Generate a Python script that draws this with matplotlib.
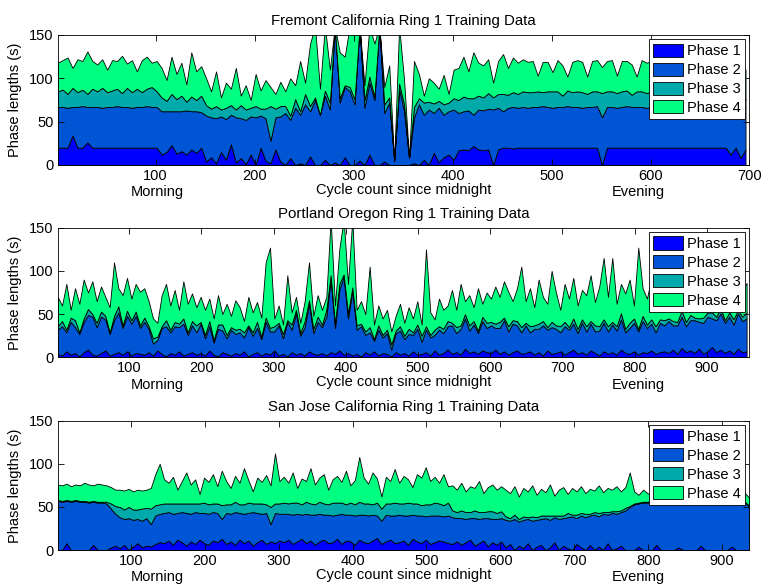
import numpy as np
import matplotlib
matplotlib.use("Agg")
import matplotlib.pyplot as plt

plt.rcParams['font.family'] = ['Liberation Sans', 'DejaVu Sans']
plt.rcParams['font.size'] = 10.5

# ---- Fremont California, one value every 5 cycles ----
fremont_cycles = np.arange(1, 701, 5)
fremont_p1 = [20, 20, 20, 34, 20, 20, 26, 20, 20, 20, 20, 20, 20, 20, 20, 20, 20, 20, 20, 20, 20,
              12, 15, 23, 13, 16, 12, 18, 14, 20,
              4, 9, 2, 15, 6, 24, 3, 8, 1, 12, 0, 20, 5, 2, 18, 4,
              0, 8, 0, 2, 0, 10, 0, 0, 6, 0, 3, 0, 9, 0, 0, 5, 0, 12, 0, 0, 4, 0, 0, 0, 0, 0, 2, 0, 6, 0, 14, 3, 9, 12, 6,
              17, 18, 17, 22, 18, 17, 18, 0, 18, 20, 20, 19, 20, 20,
              20, 20, 20, 20, 20, 20, 20, 20, 20, 20, 20, 20, 20, 20, 20,
              0,
              20, 20, 20, 20, 20, 20, 20, 20, 20, 20, 20, 20, 20, 20, 20, 20, 20, 20, 20, 20, 20, 20, 20, 20, 20,
              12, 20, 8, 18]
fremont_p2 = [47, 47, 46, 33, 47, 48, 41, 47, 47, 46, 47, 47, 48, 47, 47, 46, 47, 47, 48, 47, 47,
              50, 47, 39, 49, 46, 51, 44, 48, 41,
              53, 46, 52, 41, 47, 34, 52, 46, 51, 44, 55, 37, 49, 26, 37, 52,
              60, 44, 66, 56, 70, 52, 75, 58, 74, 64, 157, 72, 81, 85, 70, 155, 66, 83, 75, 160, 56, 72, 5, 88,
              62, 8, 53, 70, 52, 64, 46, 63, 49, 50, 58,
              43, 44, 46, 36, 46, 46, 47, 64, 48, 42, 46, 48, 46, 47,
              46, 47, 47, 48, 47, 46, 47, 47, 48, 47, 47, 46, 47, 47, 48,
              55,
              47, 47, 46, 47, 48, 47, 47, 47, 46, 47, 47, 48, 47, 47, 46, 47, 47, 47, 48, 47, 47, 46, 47, 47, 47,
              55, 47, 59, 49]
fremont_p3 = [18, 20, 16, 22, 17, 19, 15, 21, 18, 23, 17, 19, 20, 16, 22, 18, 21, 17, 20, 23, 18,
              16, 12, 20, 14, 18, 10, 17, 13, 19,
              12, 10, 14, 8, 13, 11, 9, 15, 12, 10, 13, 8, 11, 40, 10, 12,
              8, 5, 10, 4, 12, 6, 3, 0, 6, 8, 0, 5, 2, 5, 6, 0, 9, 7, 4, 0, 10, 6, 0, 6, 8, 0, 12, 7, 14, 9, 11, 8, 12, 10, 13,
              15, 17, 14, 19, 16, 15, 18, 14, 16, 20, 15, 17, 16, 18,
              18, 17, 18, 16, 18, 19, 18, 13, 18, 17, 18, 18, 15, 18, 17,
              28,
              18, 18, 17, 18, 18, 14, 18, 18, 17, 18, 18, 18, 19, 18, 17, 18, 18, 18, 18, 17, 18, 18, 18, 17, 18,
              30, 18, 26, 8]
fremont_p4 = [33, 34, 42, 23, 38, 33, 49, 32, 31, 33, 26, 35, 32, 43, 28, 37, 20, 37, 37, 28, 35,
              34, 24, 43, 29, 38, 20, 51, 33, 34,
              31, 20, 40, 14, 29, 19, 48, 11, 28, 9, 37, 21, 33, 22, 17, 28,
              17, 43, 16, 58, 13, 72, 82, 30, 74, 38, 0, 53, 33, 70, 74, 0, 17, 58, 61, 0, 20, 37, 0, 66, 28, 0, 53, 28, 8,
              27, 24, 14, 34, 10, 33,
              37, 46, 31, 53, 38, 37, 39, 17, 38, 46, 31, 40, 36, 37,
              35, 36, 18, 35, 34, 22, 36, 35, 16, 35, 36, 35, 20, 35, 36,
              30,
              35, 36, 20, 35, 34, 35, 17, 36, 35, 35, 34, 36, 35, 35, 36, 35, 35, 34, 36, 35, 35, 36, 35, 35, 34,
              23, 35, 27, 35]

# ---- Portland Oregon, one value every 6 cycles ----
portland_cycles = np.arange(1, 960, 6)
portland_p1 = [4, 2, 7, 3, 5, 1, 6, 9, 3, 2, 5, 8, 2, 4, 6, 3, 7, 2, 5, 4,
               3, 6, 2, 8, 4, 1, 5, 3, 7, 2, 4, 6, 3, 5, 2, 8, 3, 1, 6, 4,
               2, 5, 3, 7, 1, 4, 6, 2, 5, 3, 8, 2, 4, 1, 6, 3, 5, 2, 7, 4,
               3, 5, 2, 6, 4, 8, 3, 5, 2, 4, 1, 6, 3, 7, 2, 5, 4, 1, 6, 3,
               5, 2, 7, 3, 4, 6, 2, 8, 3, 5, 9, 4, 6, 3, 10, 5, 7, 4, 8, 6,
               5, 9, 4, 7, 3, 6, 8, 4, 5, 7, 3, 6, 2, 8, 4, 5, 7, 3, 6, 9,
               4, 6, 3, 8, 5, 2, 7, 4, 6, 3, 9, 5, 4, 7, 3, 6, 5, 8, 4, 6,
               7, 5, 9, 4, 11, 6, 8, 5, 10, 4, 7, 12, 6, 9, 5, 8, 4, 10, 6, 7]
portland_p2 = [28, 34, 22, 38, 30, 26, 35, 40, 44, 33, 42, 36, 25, 39, 46, 31, 41, 37, 43, 30,
               38, 27, 14, 12, 30, 35, 24, 33, 28, 37, 22, 31, 26, 34,
               20, 28, 14, 32, 25, 18, 30, 22, 26, 16, 34, 21, 28, 19, 36, 27,
               22, 35, 18, 40, 26, 48, 20, 33, 55, 24, 38, 30,
               45, 85, 30, 70, 90, 40, 75, 28, 35,
               20, 26, 12, 30, 18, 24, 8, 22, 28, 16, 25, 19, 30, 14, 26, 21, 18, 29, 23,
               27, 33, 22, 30, 35, 26, 31, 24, 34, 28, 32, 25, 30, 36, 27, 33, 29,
               25, 32, 22, 30, 27, 35, 24, 31, 28, 22, 33, 26, 30, 24, 34, 27, 31, 25, 29, 33,
               26, 32, 28, 35, 24, 30, 33, 27, 36, 29, 31, 25, 34, 30, 37, 28, 33, 36, 30, 35,
               38, 31, 36, 40, 33, 37, 42, 35, 39, 34, 41, 36, 38]
portland_p3 = [4, 6, 3, 5, 8, 2, 4, 7, 3, 5, 6, 4, 2, 5, 7, 3, 6, 4, 5, 3,
               5, 3, 6, 4, 2, 7, 3, 5, 4, 6, 3, 5, 8, 2, 4, 6, 3, 5, 7, 4,
               3, 5, 4, 6, 2, 4, 7, 3, 5, 4, 6, 3, 5, 2, 6, 4, 3, 7, 4, 5,
               6, 3, 8, 4, 5, 7, 3, 6, 4, 5, 3, 4, 6, 2, 5, 3, 4, 6, 3, 5,
               4, 6, 3, 5, 7, 4, 3, 6, 4, 5, 6, 3, 7, 4, 5, 6, 4, 3, 5, 6,
               4, 5, 7, 3, 6, 4, 5, 6, 3, 7, 4, 6, 5, 3, 6, 4, 7, 5, 3, 6,
               5, 4, 6, 3, 7, 5, 4, 6, 3, 5, 7, 4, 6, 5, 3, 6, 4, 5, 7, 4,
               6, 3, 5, 4, 7, 5, 6, 3, 4, 6, 5, 7, 4, 6, 3, 5, 6, 4, 5, 7]
portland_p4 = [34, 18, 53, 9, 37, 33, 45, 19, 38, 25, 29, 22, 29, 62, 21, 35, 38, 25, 32, 39,
               34, 29, 23, 16, 36, 42, 28, 37, 16, 43, 33, 32, 21, 29,
               29, 26, 25, 34, 12, 36, 13, 34, 25, 13, 33, 23, 23, 22, 64, 93,
               9, 20, 11, 52, 14, 15, 12, 23, 44, 15, 25, 17,
               15, 65, 21, 40, 64, 34, 79, 18, 26,
               20, 70, 17, 23, 19, 23, 15, 17, 26, 15, 25, 16, 27, 13, 89, 26, 12, 32, 22,
               18, 38, 20, 48, 15, 35, 16, 49, 15, 35, 27, 43, 29, 42, 40, 22, 38,
               70, 25, 44, 21, 51, 28, 27, 59, 38, 19, 44, 33, 47, 27, 34, 36, 53, 27, 46, 71,
               34, 74, 26, 34, 41, 50, 15, 94, 32, 30, 48, 39, 44, 22, 50, 36, 43, 16, 57, 27,
               39, 27, 49, 28, 38, 28, 43, 39, 36, 26, 37, 31, 34]

# ---- San Jose California, one value every 6 cycles ----
sanjose_cycles = np.arange(1, 938, 6)
sanjose_p1 = [0, 0, 8, 0, 0, 0, 0, 0, 6, 0, 0,
              0, 3, 5,
              2, 6, 0, 4, 8, 3, 5,
              4, 7, 9,
              8, 11, 6, 12, 9, 5, 10, 7, 12, 8, 6, 11, 9, 13, 7, 10, 6, 12, 8, 11, 5, 9, 12, 7, 10, 8, 11,
              9, 12, 7, 10, 13, 8, 11, 6, 10, 12, 8, 9, 13, 7, 11, 10, 6, 12, 9, 8, 11, 14, 7, 10, 12, 8, 9, 11,
              6, 13, 10, 8, 12, 7, 9, 11, 10, 8,
              7, 10, 6, 9, 12, 5, 8, 11, 4, 9, 6, 10,
              3, 7, 0, 5, 2, 8, 0, 4, 6, 0, 3, 9, 0, 5, 2, 0, 7, 3, 0, 6, 0, 4, 0, 8, 0, 2, 5, 0,
              0, 0, 4, 0, 0, 0, 6, 0, 0, 0, 0, 3, 0, 0, 0, 0, 5, 0, 0, 0, 0, 0, 0, 4, 0, 0, 0, 0]
sanjose_p2 = [57, 56, 49, 56, 57, 56, 56, 55, 50, 55, 55,
              54, 45, 37,
              36, 30, 37, 31, 28, 31, 32,
              26, 33, 33,
              35, 33, 36, 31, 35, 38, 32, 37, 31, 35, 36, 33, 34, 23, 36, 32, 38, 31, 34, 32, 39, 34, 30, 36, 20,
              35, 31,
              33, 30, 34, 32, 28, 34, 30, 35, 32, 29, 33, 31, 28, 35, 30, 31, 34, 29, 32, 32, 30, 26, 27, 31, 28,
              32, 32, 29, 34, 28, 30, 32, 27, 33, 31, 29, 29, 32,
              31, 27, 31, 27, 25, 32, 28, 26, 33, 27, 30, 27,
              32, 27, 36, 28, 33, 28, 34, 31, 30, 37, 32, 29, 36, 32, 36, 39, 30, 37, 38, 34, 41, 35, 42, 33, 43,
              40, 39, 46,
              50, 53, 50, 55, 55, 56, 49, 55, 56, 55, 55, 53, 55, 55, 56, 55, 50, 55, 56, 55, 55, 56, 55, 51, 55,
              56, 55, 50]
sanjose_p3 = [1, 1, 1, 1, 1, 1, 1, 1, 1, 1, 1,
              2, 6, 9,
              12, 11, 13, 12, 11, 14, 12,
              18, 12, 11,
              11, 10, 12, 11, 10, 11, 12, 10, 11, 12, 11, 10, 11, 16, 10, 11, 12, 10, 11, 12, 10, 11, 12, 10, 20,
              11, 12,
              13, 12, 14, 13, 12, 14, 13, 12, 14, 13, 12, 15, 14, 13, 12, 14, 13, 15, 13, 14, 12, 15, 14, 13, 14,
              15, 13, 14, 15, 13, 14, 12, 14, 13, 15, 14, 13, 15,
              8, 7, 9, 8, 7, 9, 8, 7, 8, 9, 7, 8,
              4, 3, 5, 3, 4, 2, 5, 3, 4, 3, 5, 2, 4, 3, 5, 2, 4, 3, 4, 2, 3, 4, 2, 3, 2, 3, 2, 3,
              1, 1, 1, 1, 1, 1, 1, 1, 1, 1, 1, 1, 1, 1, 1, 1, 1, 1, 1, 1, 1, 1, 1, 1, 1, 1, 1, 1]
sanjose_p4 = [18, 18, 19, 17, 18, 18, 21, 20, 18, 21, 20,
              19, 19, 19,
              20, 22, 21, 21, 23, 21, 21,
              24, 36, 47,
              28, 24, 31, 16, 26, 36, 22, 28, 11, 29, 26, 34, 20, 40, 27, 19, 30, 25, 42, 26, 14, 30, 25, 34, 25,
              58, 26,
              30, 24, 35, 17, 30, 24, 41, 23, 28, 34, 17, 27, 31, 24, 39, 20, 28, 52, 30, 23, 37, 28, 14, 31, 26,
              39, 24, 32, 27, 19, 34, 32, 43, 27, 30, 24, 36, 19,
              29, 26, 32, 24, 30, 26, 36, 22, 28, 31, 27, 29,
              31, 29, 33, 26, 33, 30, 36, 26, 31, 27, 36, 23, 30, 33, 22, 31, 27, 31, 24, 29, 25, 32, 23, 28, 25,
              29, 22, 24,
              39, 14, 9, 14, 10, 6, 13, 9, 10, 6, 14, 9, 8, 12, 8, 13, 7, 11, 9, 14, 8, 11, 9, 11, 7, 12, 10, 9]

phase_names = ['Phase 1', 'Phase 2', 'Phase 3', 'Phase 4']
phase_colors = [plt.cm.winter(v) for v in (0.0, 1 / 3, 2 / 3, 1.0)]

panels = [
    ('Fremont California Ring 1 Training Data', fremont_cycles,
     [fremont_p1, fremont_p2, fremont_p3, fremont_p4], 700, range(100, 701, 100)),
    ('Portland Oregon Ring 1 Training Data', portland_cycles,
     [portland_p1, portland_p2, portland_p3, portland_p4], 959, range(100, 901, 100)),
    ('San Jose California Ring 1 Training Data', sanjose_cycles,
     [sanjose_p1, sanjose_p2, sanjose_p3, sanjose_p4], 937, range(100, 901, 100)),
]

fig = plt.figure(figsize=(7.64, 5.88), dpi=100)
axes_rects = [[0.0755, 0.7194, 0.9055, 0.2211],
              [0.0755, 0.3923, 0.9055, 0.2204],
              [0.0755, 0.0646, 0.9055, 0.2199]]

for rect, (title, cyc, phases, xmax, ticks) in zip(axes_rects, panels):
    ax = fig.add_axes(rect)
    ax.stackplot(cyc, *phases, colors=phase_colors, labels=phase_names,
                 edgecolor='black', linewidth=0.6)
    ax.set_xlim(1, xmax)
    ax.set_ylim(0, 150)
    ax.set_xticks(list(ticks))
    ax.set_yticks([0, 50, 100, 150])
    ax.tick_params(direction='in', top=True, right=True, length=4, width=0.6, labelsize=10.5, pad=3)
    for s in ax.spines.values():
        s.set_linewidth(0.6)
    ax.set_title(title, fontsize=10.8, pad=7)
    ax.set_ylabel('Phase lengths (s)', fontsize=10.5, labelpad=5)
    ax.set_xlabel('Cycle count since midnight', fontsize=10.5, labelpad=0)
    ax.text(0.1436, -0.21, 'Morning', transform=ax.transAxes, ha='center', va='center', fontsize=10.5)
    ax.text(0.839, -0.21, 'Evening', transform=ax.transAxes, ha='center', va='center', fontsize=10.5)
    leg = ax.legend(loc='upper right', fontsize=10.5, fancybox=False, framealpha=1,
                    edgecolor='black', borderaxespad=0.3, borderpad=0.3,
                    labelspacing=0.3, handlelength=2.0, handleheight=1.0, handletextpad=0.3)
    leg.get_frame().set_linewidth(0.6)

fig.savefig('out.png', dpi=100)
